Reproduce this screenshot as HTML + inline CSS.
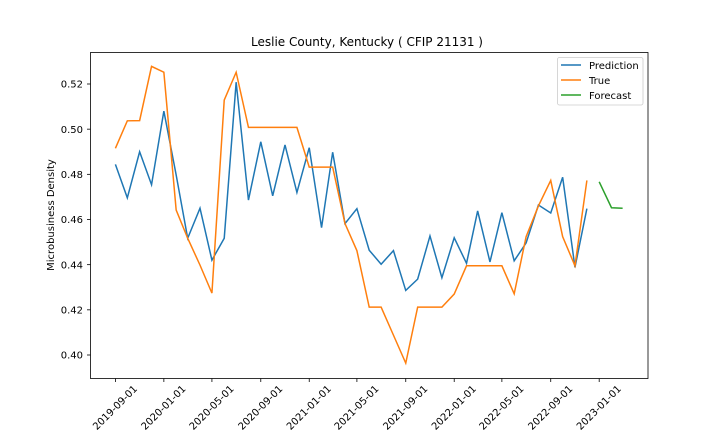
<!DOCTYPE html>
<html>
<head>
<meta charset="utf-8">
<style>
html,body{margin:0;padding:0;background:#fff;width:720px;height:432px;overflow:hidden}
svg{display:block}
text{font-family:"DejaVu Sans",sans-serif;fill:#000}
</style>
</head>
<body>
<svg id="chart" width="720" height="432" viewBox="0 0 720 432" xmlns="http://www.w3.org/2000/svg">
<rect x="0" y="0" width="720" height="432" fill="#fff"/>
<text x="367" y="46" font-size="12" text-anchor="middle">Leslie County, Kentucky ( CFIP 21131 )</text>
<text x="0" y="0" font-size="10" text-anchor="middle" transform="translate(54,215) rotate(-90)">Microbusiness Density</text>
<g id="ticks"></g>
<g id="series"></g>
<rect x="90.5" y="52.5" width="557.5" height="326" fill="none" stroke="#000" stroke-width="0.8"/>
<g>
<rect x="557.5" y="57.5" width="85.5" height="47.5" rx="2" fill="#fff" fill-opacity="0.8" stroke="#ccc" stroke-width="0.8"/>
<g>
<line x1="561" x2="581" y1="65" y2="65" stroke="#1f77b4" stroke-width="1.5"/>
<text x="589" y="69" font-size="10">Prediction</text>
</g>
<g>
<line x1="561" x2="581" y1="80" y2="80" stroke="#ff7f0e" stroke-width="1.5"/>
<text x="589" y="84" font-size="10">True</text>
</g>
<g>
<line x1="561" x2="581" y1="95" y2="95" stroke="#2ca02c" stroke-width="1.5"/>
<text x="589" y="99" font-size="10">Forecast</text>
</g>
</g>
</svg>
<script>
const months = ["2019-09-01","2019-10-01","2019-11-01","2019-12-01","2020-01-01","2020-02-01","2020-03-01","2020-04-01","2020-05-01","2020-06-01","2020-07-01","2020-08-01","2020-09-01","2020-10-01","2020-11-01","2020-12-01","2021-01-01","2021-02-01","2021-03-01","2021-04-01","2021-05-01","2021-06-01","2021-07-01","2021-08-01","2021-09-01","2021-10-01","2021-11-01","2021-12-01","2022-01-01","2022-02-01","2022-03-01","2022-04-01","2022-05-01","2022-06-01","2022-07-01","2022-08-01","2022-09-01","2022-10-01","2022-11-01","2022-12-01"];
const prediction = [0.4844,0.4696,0.4900,0.4754,0.5080,0.4797,0.4517,0.4650,0.4420,0.4517,0.5208,0.4686,0.4944,0.4705,0.4930,0.4720,0.4918,0.4564,0.4898,0.4582,0.4648,0.4464,0.4402,0.4462,0.4286,0.4336,0.4527,0.4342,0.4519,0.4406,0.4638,0.4412,0.4630,0.4417,0.4496,0.4664,0.4629,0.4787,0.4388,0.4648];
const truth = [0.4915,0.5037,0.5038,0.5278,0.5252,0.4642,0.4517,0.4398,0.4274,0.5129,0.5252,0.5008,0.5008,0.5008,0.5008,0.5008,0.4832,0.4832,0.4832,0.4582,0.4462,0.4212,0.4212,0.4088,0.3964,0.4212,0.4212,0.4212,0.4270,0.4395,0.4395,0.4395,0.4395,0.4271,0.4524,0.4660,0.4773,0.4524,0.4395,0.4773];
const forecastMonths = ["2023-01-01","2023-02-01","2023-03-01"];
const forecast = [0.4767,0.4652,0.4650];
const xTickLabels = ["2019-09-01","2020-01-01","2020-05-01","2020-09-01","2021-01-01","2021-05-01","2021-09-01","2022-01-01","2022-05-01","2022-09-01","2023-01-01"];
const yTickLabels = ["0.40","0.42","0.44","0.46","0.48","0.50","0.52"];

const NS = "http://www.w3.org/2000/svg";
const DAY = 86400000;
const x0 = Date.parse("2019-09-01");
function xScale(d){ return 115.4 + (Date.parse(d) - x0) / DAY * 0.3972; }
function yScale(v){ return 84.0 + (0.52 - v) * 2258.3; }

const tickGroup = document.getElementById("ticks");
const seriesGroup = document.getElementById("series");

xTickLabels.forEach(function(label){
  const x = xScale(label);
  const t = document.createElementNS(NS, "line");
  
  
  t.setAttribute("x1", x); t.setAttribute("x2", x);
  t.setAttribute("y1", 378.5); t.setAttribute("y2", 382);
  t.setAttribute("stroke", "#000"); t.setAttribute("stroke-width", 0.8);
  tickGroup.appendChild(t);
  const s = document.createElementNS(NS, "text");
  
  
  s.setAttribute("font-size", 10);
  s.setAttribute("text-anchor", "middle");
  s.setAttribute("transform", "translate(" + (x - 0.5) + ",407.5) rotate(-45) translate(0,3.5)");
  s.textContent = label;
  tickGroup.appendChild(s);
});

yTickLabels.forEach(function(label){
  const y = yScale(parseFloat(label));
  const t = document.createElementNS(NS, "line");
  
  
  t.setAttribute("x1", 87); t.setAttribute("x2", 90.5);
  t.setAttribute("y1", y); t.setAttribute("y2", y);
  t.setAttribute("stroke", "#000"); t.setAttribute("stroke-width", 0.8);
  tickGroup.appendChild(t);
  const s = document.createElementNS(NS, "text");
  
  
  s.setAttribute("font-size", 10);
  s.setAttribute("text-anchor", "end");
  s.setAttribute("x", 83);
  s.setAttribute("y", y + 3.6);
  s.textContent = label;
  tickGroup.appendChild(s);
});

function pointsFor(dates, values){
  return values.map(function(v, i){ return xScale(dates[i]).toFixed(2) + "," + yScale(v).toFixed(2); }).join(" ");
}

const predictionLine = document.createElementNS(NS, "polyline");


predictionLine.setAttribute("points", pointsFor(months, prediction));
predictionLine.setAttribute("fill", "none");
predictionLine.setAttribute("stroke", "#1f77b4");
predictionLine.setAttribute("stroke-width", 1.5);
seriesGroup.appendChild(predictionLine);

const trueLine = document.createElementNS(NS, "polyline");


trueLine.setAttribute("points", pointsFor(months, truth));
trueLine.setAttribute("fill", "none");
trueLine.setAttribute("stroke", "#ff7f0e");
trueLine.setAttribute("stroke-width", 1.5);
seriesGroup.appendChild(trueLine);

const forecastLine = document.createElementNS(NS, "polyline");


forecastLine.setAttribute("points", pointsFor(forecastMonths, forecast));
forecastLine.setAttribute("fill", "none");
forecastLine.setAttribute("stroke", "#2ca02c");
forecastLine.setAttribute("stroke-width", 1.5);
seriesGroup.appendChild(forecastLine);
</script>
</body>
</html>
